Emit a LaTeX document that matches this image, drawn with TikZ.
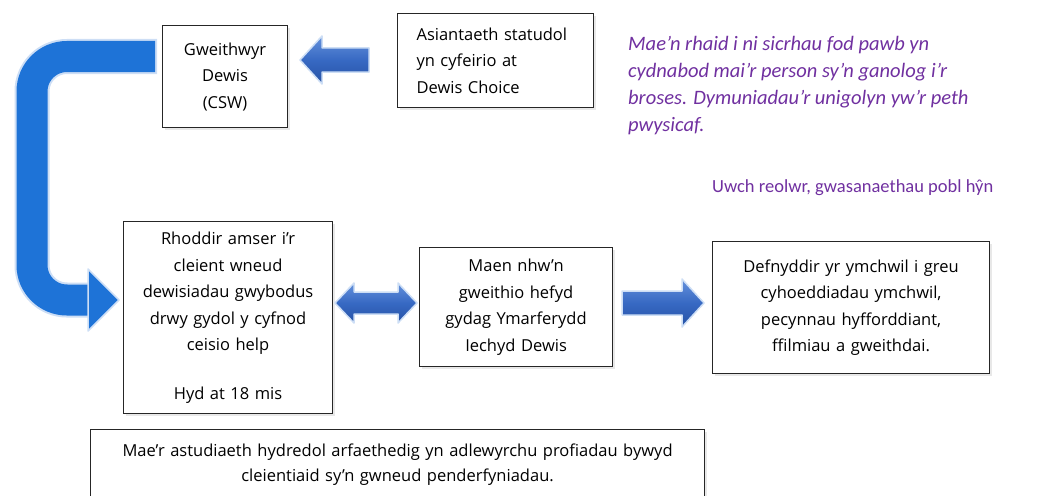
\documentclass[tikz,border=0pt]{standalone}
\usepackage{fontspec}
\setmainfont{Open Sans}
\newfontfamily\calibri{Carlito}
\usetikzlibrary{shadows}
\definecolor{cblue}{RGB}{30,115,215}
\definecolor{ablue}{RGB}{55,105,195}
\definecolor{alight}{RGB}{100,145,220}
\definecolor{adark}{RGB}{38,82,165}
\definecolor{halo}{RGB}{205,222,245}
\definecolor{purp}{RGB}{112,48,160}
\tikzset{
  box/.style={draw=black!85, line width=1.1pt, fill=white, inner sep=0pt, align=center,
    anchor=north west, font=\fontsize{16.5}{26.5}\selectfont,
    drop shadow={opacity=0.18, shadow xshift=2.5pt, shadow yshift=-2.5pt}},
  blockarrow/.style={top color=alight, bottom color=adark, middle color=ablue,
    draw=halo, line width=1.5pt, line join=round},
}
\begin{document}
\begin{tikzpicture}[x=1pt,y=-1pt]
\useasboundingbox (0,0) rectangle (1040,495);

% big C arrow
\draw[halo, line width=35pt, rounded corners=35pt] (157,56.5) -- (32,56.5) -- (32,300) -- (90,300);
\draw[cblue, line width=31pt, rounded corners=35pt] (155,56.5) -- (32,56.5) -- (32,300) -- (89,300);
\fill[cblue, draw=halo, line width=1.5pt, line join=round] (88,269) -- (119,300) -- (88,331) -- cycle;

% boxes
\node[box, minimum width=125, minimum height=102, text width=105] (gw) at (162,25) {Gweithwyr\\Dewis\\(CSW)};
\node[box, minimum width=196, minimum height=94, text width=158, align=left] (as) at (397,13) {Asiantaeth statudol\\yn cyfeirio at\\Dewis Choice};
\node[box, minimum width=209, minimum height=192, text width=195] (rh) at (123,221) {Rhoddir amser i’r\\cleient wneud\\dewisiadau gwybodus\\drwy gydol y cyfnod\\ceisio help\\[22pt]Hyd at 18 mis};
\node[box, minimum width=193, minimum height=119, text width=180] (mn) at (419,247) {Maen nhw’n\\gweithio hefyd\\gydag Ymarferydd\\Iechyd Dewis};
\node[box, minimum width=277, minimum height=132, text width=260] (df) at (712,241) {Defnyddir yr ymchwil i greu\\cyhoeddiadau ymchwil,\\pecynnau hyfforddiant,\\ffilmiau a gweithdai.};
\node[box, minimum width=614, minimum height=71, text width=600, font=\fontsize{16.5}{25}\selectfont] (bt) at (90,429) {Mae’r astudiaeth hydredol arfaethedig yn adlewyrchu profiadau bywyd\\cleientiaid sy’n gwneud penderfyniadau.};

% arrows between boxes
\path[blockarrow] (300,60) -- (322,36) -- (322,48) -- (369,48) -- (369,72) -- (322,72) -- (322,84) -- cycle;
\path[blockarrow] (335,303) -- (354,283) -- (354,292) -- (398,292) -- (398,283) -- (417,303) -- (398,323) -- (398,314) -- (354,314) -- (354,323) -- cycle;
\path[blockarrow] (622,291) -- (682,291) -- (682,279) -- (704,303) -- (682,327) -- (682,315) -- (622,315) -- cycle;

% quote
\node[anchor=north west, inner sep=0pt, align=left, text=purp, font=\calibri\itshape\fontsize{20.5}{27}\selectfont] (qt) at (628,36)
 {Mae’n rhaid i ni sicrhau fod pawb yn\\cydnabod mai’r person sy’n ganolog i’r\\broses. Dymuniadau’r unigolyn yw’r peth\\pwysicaf.};
\node[anchor=base west, inner sep=0pt, text=purp, font=\calibri\fontsize{18.5}{22}\selectfont] (au) at (712,192) {Uwch reolwr, gwasanaethau pobl hŷn};
\end{tikzpicture}
\end{document}
